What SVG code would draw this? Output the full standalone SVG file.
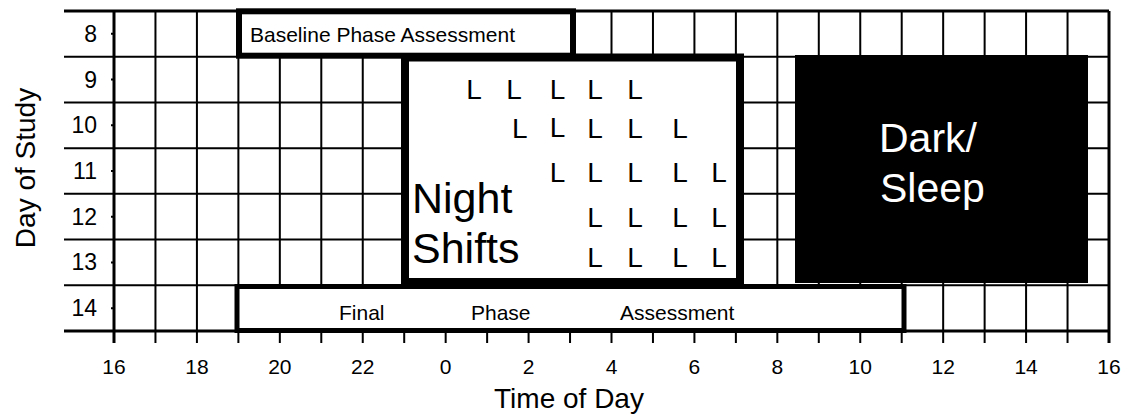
<svg xmlns="http://www.w3.org/2000/svg" width="1122" height="415" viewBox="0 0 1122 415">
<style>
  text { font-family: "Liberation Sans", Arial, sans-serif; fill: #000; }
  .grid { stroke: #000; stroke-width: 2; fill: none; }
  .border { stroke: #000; stroke-width: 3; fill: none; }
  .tick { font-size: 21px; text-anchor: middle; }
  .row { font-size: 23px; text-anchor: end; }
  .lbl { font-size: 21px; }
  .L { font-size: 28px; }
  .big { font-size: 43px; }
  .axis { font-size: 28px; text-anchor: middle; }
</style>
<rect x="0" y="0" width="1122" height="415" fill="#fff"/>
<g id="grid">
  <path class="grid" d="M155.46 11V343M196.92 11V343M238.38 11V343M279.83 11V343M321.29 11V343M362.75 11V343M404.21 11V343M445.67 11V343M487.13 11V343M528.58 11V343M570.04 11V343M611.5 11V343M652.96 11V343M694.42 11V343M735.88 11V343M777.33 11V343M818.79 11V343M860.25 11V343M901.71 11V343M943.17 11V343M984.63 11V343M1026.08 11V343M1067.54 11V343"/>
  <path class="grid" d="M64 56.71H1109M64 102.43H1109M64 148.14H1109M64 193.86H1109M64 239.57H1109M64 285.29H1109"/>
  <path class="border" d="M64 11H1109M64 331H1109M114 11V343M1109 11V343"/>
  <path class="grid" d="M111 33.86H114M111 79.57H114M111 125.29H114M111 171H114M111 216.71H114M111 262.43H114M111 308.14H114"/>
</g>
<g id="row-labels">
  <text class="row" x="97" y="42">8</text>
  <text class="row" x="97" y="87.6">9</text>
  <text class="row" x="97" y="133.3">10</text>
  <text class="row" x="97" y="179">11</text>
  <text class="row" x="97" y="224.7">12</text>
  <text class="row" x="97" y="270.4">13</text>
  <text class="row" x="97" y="316.1">14</text>
</g>
<g id="tick-labels">
  <text class="tick" x="114" y="374">16</text>
  <text class="tick" x="196.92" y="374">18</text>
  <text class="tick" x="279.83" y="374">20</text>
  <text class="tick" x="362.75" y="374">22</text>
  <text class="tick" x="445.67" y="374">0</text>
  <text class="tick" x="528.58" y="374">2</text>
  <text class="tick" x="611.5" y="374">4</text>
  <text class="tick" x="694.42" y="374">6</text>
  <text class="tick" x="777.33" y="374">8</text>
  <text class="tick" x="860.25" y="374">10</text>
  <text class="tick" x="943.17" y="374">12</text>
  <text class="tick" x="1026.08" y="374">14</text>
  <text class="tick" x="1109" y="374">16</text>
</g>
<g id="baseline-assessment">
  <rect x="239" y="11.3" width="334" height="44.4" fill="#fff" stroke="#000" stroke-width="6"/>
  <text class="lbl" x="250" y="42">Baseline Phase Assessment</text>
</g>
<g id="final-assessment">
  <rect x="237" y="286.5" width="667" height="44" fill="#fff" stroke="#000" stroke-width="5"/>
  <text class="lbl" x="339" y="319.5">Final</text>
  <text class="lbl" x="471" y="319.5">Phase</text>
  <text class="lbl" x="620" y="319.5">Assessment</text>
</g>
<g id="night-shifts">
  <rect x="405" y="57.5" width="335" height="224.5" fill="#fff" stroke="#000" stroke-width="8"/>
  <text class="big" x="412" y="212.7">Night</text>
  <text class="big" x="412" y="262.7">Shifts</text>
  <g id="light-marks">
    <text class="L" x="466.3" y="99.3">L</text>
    <text class="L" x="506.3" y="99.3">L</text>
    <text class="L" x="549.7" y="99.3">L</text>
    <text class="L" x="587.3" y="99.3">L</text>
    <text class="L" x="627.3" y="99.3">L</text>
    <text class="L" x="512" y="138.3">L</text>
    <text class="L" x="549.7" y="137">L</text>
    <text class="L" x="587.3" y="138.3">L</text>
    <text class="L" x="627.3" y="138.3">L</text>
    <text class="L" x="672.3" y="138.3">L</text>
    <text class="L" x="549.7" y="181.7">L</text>
    <text class="L" x="587.3" y="181.7">L</text>
    <text class="L" x="627.3" y="181.7">L</text>
    <text class="L" x="672.3" y="181.7">L</text>
    <text class="L" x="711.3" y="181.7">L</text>
    <text class="L" x="587.3" y="226.7">L</text>
    <text class="L" x="627.3" y="226.7">L</text>
    <text class="L" x="672.3" y="226.7">L</text>
    <text class="L" x="711.3" y="226.7">L</text>
    <text class="L" x="587.3" y="267.3">L</text>
    <text class="L" x="627.3" y="267.3">L</text>
    <text class="L" x="672.3" y="267.3">L</text>
    <text class="L" x="711.3" y="267.3">L</text>
  </g>
</g>
<g id="dark-sleep">
  <rect x="795" y="55" width="293" height="228" fill="#000"/>
  <text x="879" y="151.7" style="font-size:41px;fill:#fff">Dark/</text>
  <text x="880" y="201.7" style="font-size:41px;fill:#fff">Sleep</text>
</g>
<g id="axis-titles">
  <text class="axis" x="569" y="408">Time of Day</text>
  <text class="axis" transform="translate(35 168) rotate(-90)" x="0" y="0">Day of Study</text>
</g>
</svg>
